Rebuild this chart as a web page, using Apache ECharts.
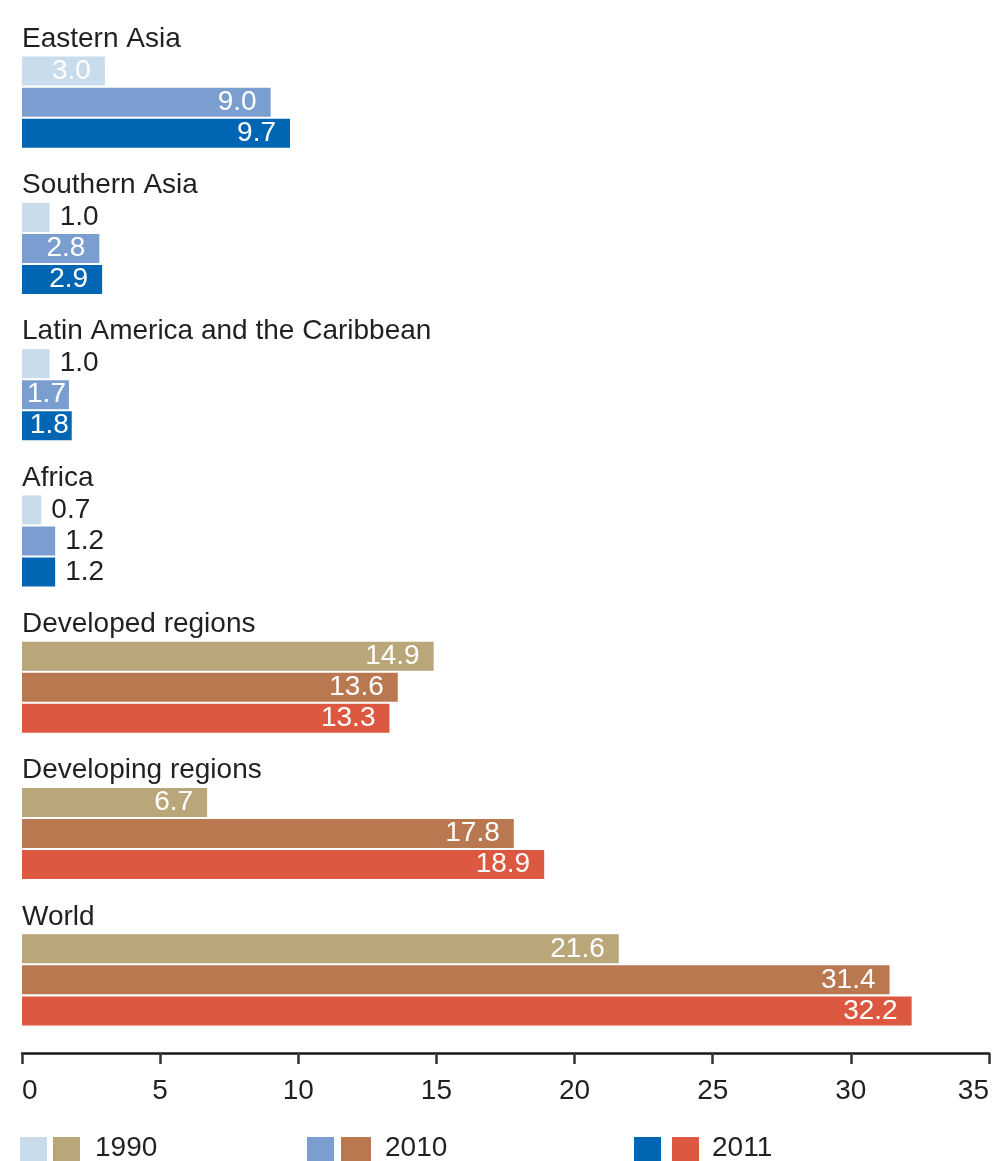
<!DOCTYPE html>
<html><head><meta charset="utf-8">
<script src="https://cdn.jsdelivr.net/npm/echarts@6/dist/echarts.min.js"></script>
<style>html,body{margin:0;padding:0;background:#fff}#c{width:993px;height:1161px}</style>
</head><body><div id="c"></div>
<script>
const categories = ['Eastern Asia','Southern Asia','Latin America and the Caribbean','Africa','Developed regions','Developing regions','World'];
const v1990 = [3.0, 1.0, 1.0, 0.7, 14.9, 6.7, 21.6];
const v2010 = [9.0, 2.8, 1.7, 1.2, 13.6, 17.8, 31.4];
const v2011 = [9.7, 2.9, 1.8, 1.2, 13.3, 18.9, 32.2];
const years = ['1990','2010','2011'];
const xTicks = [0,5,10,15,20,25,30,35];

const blues = ['#c8dcec','#7b9ed1','#0066b3'];
const browns = ['#b9a77a','#b9784f','#dc5840'];
const FONT = 'Liberation Sans';
const TXT = '#231f20';

function mkSeries(vals, k){
  return {
    type:'bar', name: years[k], barWidth: 29, barGap: '7%',
    data: vals.map((v,i)=>{
      const inside = v >= 1.5;
      return {
        value: v,
        itemStyle:{color: i < 4 ? blues[k] : browns[k]},
        label:{show:true, position: inside ? 'insideRight' : 'right',
          distance: inside ? (v < 2.5 ? 3 : 14) : 10,
          color: inside ? '#fff' : TXT, fontFamily: FONT, fontSize: 28,
          formatter: p => p.value.toFixed(1)}
      };
    })
  };
}

const chart = echarts.init(document.getElementById('c'), null, {renderer:'canvas'});
chart.setOption({
  animation:false,
  grid:{left:22, right:4, top:29, bottom:108},
  xAxis:{type:'value', min:0, max:35, interval:5,
    axisLine:{show:true, lineStyle:{color:'#1a1a1a', width:2.5}},
    axisTick:{show:true, length:11, lineStyle:{color:'#333', width:2.5}},
    splitLine:{show:false},
    axisLabel:{fontFamily:FONT, fontSize:28, color:TXT, margin:24,
      alignMinLabel:'left', alignMaxLabel:'right',
      formatter: v => xTicks.includes(v) ? String(v) : ''}
  },
  yAxis:{type:'category', data:categories, inverse:true,
    axisLine:{show:false}, axisTick:{show:false}, axisLabel:{show:false}},
  series:[
    mkSeries(v1990,0), mkSeries(v2010,1), mkSeries(v2011,2),
    {type:'scatter', symbolSize:0, silent:true,
      itemStyle:{opacity:1},
      data: categories.map(c=>[0,c]),
      label:{show:true, position:'right', distance:0, offset:[0,-63],
        fontFamily:FONT, fontSize:28, color:TXT, opacity:1,
        formatter: p => p.data[1]}}
  ],
  graphic:[
    {type:'rect', left:20, top:1137, shape:{width:27,height:27}, style:{fill:blues[0]}},
    {type:'rect', left:53, top:1137, shape:{width:27,height:27}, style:{fill:browns[0]}},
    {type:'text', left:95, top:1134, style:{text:years[0], font:'28px "Liberation Sans"', fill:TXT}},
    {type:'rect', left:307, top:1137, shape:{width:27,height:27}, style:{fill:blues[1]}},
    {type:'rect', left:341, top:1137, shape:{width:30,height:27}, style:{fill:browns[1]}},
    {type:'text', left:385, top:1134, style:{text:years[1], font:'28px "Liberation Sans"', fill:TXT}},
    {type:'rect', left:634, top:1137, shape:{width:27,height:27}, style:{fill:blues[2]}},
    {type:'rect', left:672, top:1137, shape:{width:27,height:27}, style:{fill:browns[2]}},
    {type:'text', left:712, top:1134, style:{text:years[2], font:'28px "Liberation Sans"', fill:TXT}}
  ]
});
</script></body></html>
